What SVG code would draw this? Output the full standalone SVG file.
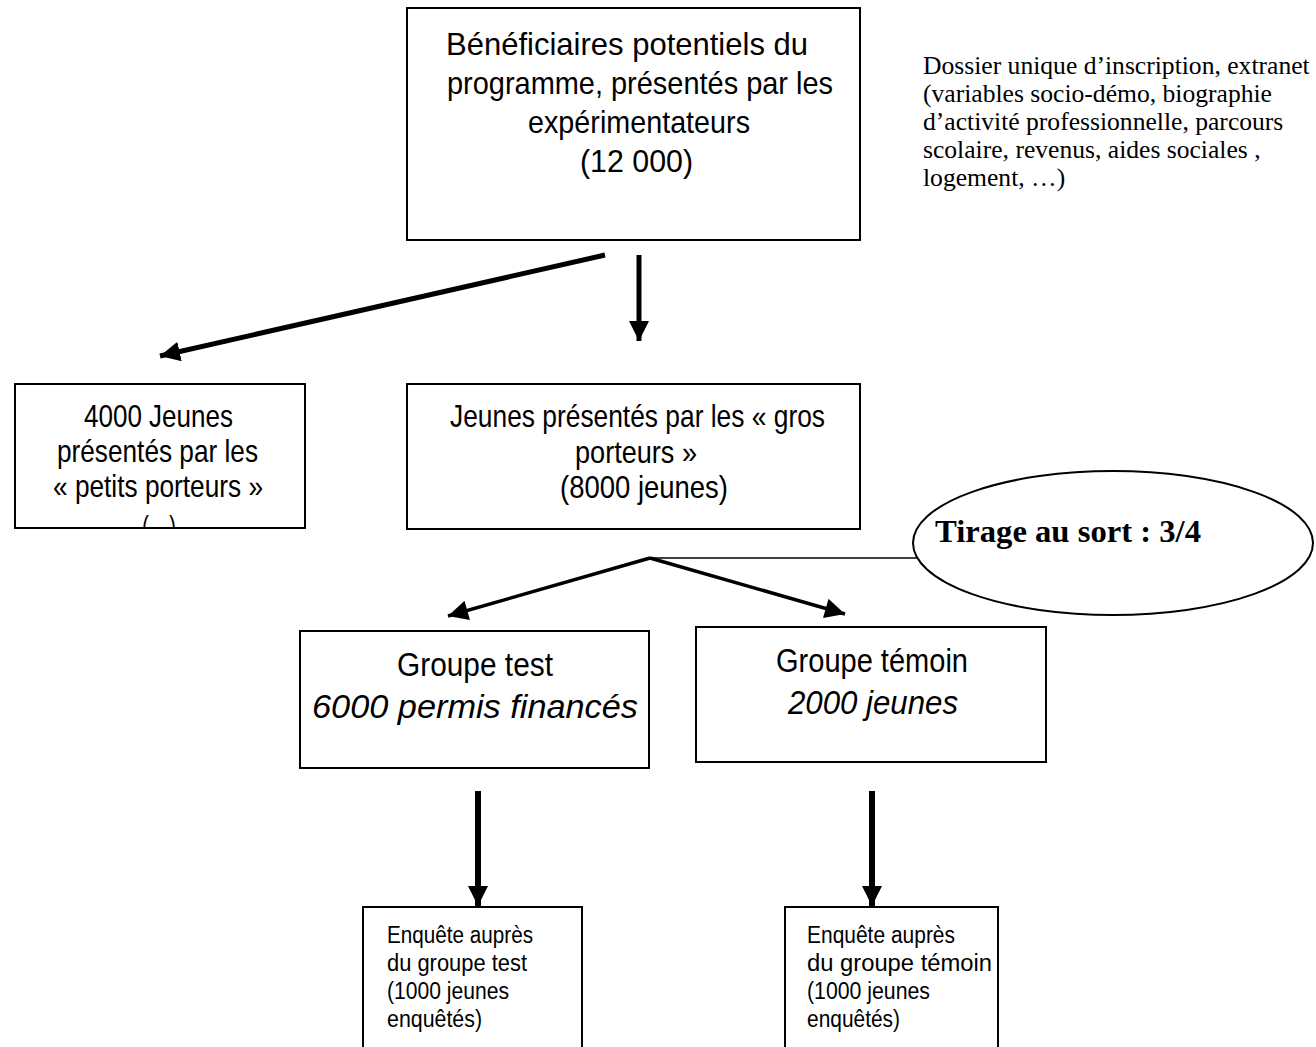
<svg xmlns="http://www.w3.org/2000/svg" width="1316" height="1047" viewBox="0 0 1316 1047">
<style>
.box{fill:#fff;stroke:#000;stroke-width:2}
.n{font-family:"Liberation Sans Narrow","Liberation Sans",Arial,sans-serif;fill:#000}
.t{font-family:"Liberation Serif","Times New Roman",serif;fill:#000}
.arr{stroke:#000;fill:none}
</style>
<defs>
<marker id="ah" markerUnits="userSpaceOnUse" viewBox="0 0 20 20" markerWidth="20" markerHeight="20" refX="20" refY="10" orient="auto">
<path d="M0,0 L20,10 L0,20 Z" fill="#000"/>
</marker>
<marker id="ahs" markerUnits="userSpaceOnUse" viewBox="0 0 20 20" markerWidth="23" markerHeight="20" refX="20" refY="10" orient="auto">
<path d="M0,0 L20,10 L0,20 Z" fill="#000"/>
</marker>
<clipPath id="clipLeft"><rect x="15" y="384" width="290" height="143"/></clipPath>
</defs>

<g id="connectors">
<line class="arr" x1="605" y1="255" x2="160" y2="356" stroke-width="5" marker-end="url(#ah)"/>
<line class="arr" x1="639" y1="255" x2="639" y2="341" stroke-width="5" marker-end="url(#ah)"/>
<line class="arr" x1="650" y1="558" x2="917" y2="558" stroke-width="1.6"/>
<line class="arr" x1="650" y1="558" x2="448" y2="616" stroke-width="3.5" marker-end="url(#ahs)"/>
<line class="arr" x1="650" y1="558" x2="845" y2="614" stroke-width="3.5" marker-end="url(#ahs)"/>
<line class="arr" x1="478" y1="791" x2="478" y2="906" stroke-width="6" marker-end="url(#ah)"/>
<line class="arr" x1="872" y1="791" x2="872" y2="906" stroke-width="6" marker-end="url(#ah)"/>
</g>

<g id="node-beneficiaires">
<rect class="box" x="407" y="8" width="453" height="232"/>
<text class="n" font-size="32" x="446" y="55" textLength="362" lengthAdjust="spacingAndGlyphs">Bénéficiaires potentiels du</text>
<text class="n" font-size="32" x="447" y="94" textLength="386" lengthAdjust="spacingAndGlyphs">programme, présentés par les</text>
<text class="n" font-size="32" x="528" y="133" textLength="222" lengthAdjust="spacingAndGlyphs">expérimentateurs</text>
<text class="n" font-size="32" x="580" y="172" textLength="113" lengthAdjust="spacingAndGlyphs">(12 000)</text>
</g>

<g id="note-dossier">
<text class="t" font-size="25.6" x="923" y="74">Dossier unique d’inscription, extranet</text>
<text class="t" font-size="25.6" x="923" y="102">(variables socio-démo, biographie</text>
<text class="t" font-size="25.6" x="923" y="130">d’activité professionnelle, parcours</text>
<text class="t" font-size="25.6" x="923" y="158">scolaire, revenus, aides sociales ,</text>
<text class="t" font-size="25.6" x="923" y="186">logement, …)</text>
</g>

<g id="node-petits">
<rect class="box" x="15" y="384" width="290" height="144"/>
<text class="n" font-size="32" x="84" y="427" textLength="149" lengthAdjust="spacingAndGlyphs">4000 Jeunes</text>
<text class="n" font-size="32" x="57" y="462" textLength="201" lengthAdjust="spacingAndGlyphs">présentés par les</text>
<text class="n" font-size="32" x="53" y="497" textLength="210" lengthAdjust="spacingAndGlyphs">« petits porteurs »</text>
<text class="n" font-size="32" x="142" y="538" textLength="34" lengthAdjust="spacingAndGlyphs" clip-path="url(#clipLeft)">(…)</text>
</g>

<g id="node-gros">
<rect class="box" x="407" y="384" width="453" height="145"/>
<text class="n" font-size="32" x="450" y="427" textLength="375" lengthAdjust="spacingAndGlyphs">Jeunes présentés par les « gros</text>
<text class="n" font-size="32" x="575" y="463" textLength="122" lengthAdjust="spacingAndGlyphs">porteurs »</text>
<text class="n" font-size="32" x="560" y="498" textLength="168" lengthAdjust="spacingAndGlyphs">(8000 jeunes)</text>
</g>

<g id="node-tirage">
<ellipse cx="1113" cy="543" rx="200" ry="72" fill="#fff" stroke="#000" stroke-width="2"/>
<text class="t" font-size="32" font-weight="bold" x="935" y="542" textLength="266" lengthAdjust="spacingAndGlyphs">Tirage au sort : 3/4</text>
</g>

<g id="node-test">
<rect class="box" x="300" y="631" width="349" height="137"/>
<text class="n" font-size="33" x="397" y="676" textLength="156" lengthAdjust="spacingAndGlyphs">Groupe test</text>
<text class="n" font-size="33" font-style="italic" x="312" y="718" textLength="326" lengthAdjust="spacingAndGlyphs">6000 permis financés</text>
</g>

<g id="node-temoin">
<rect class="box" x="696" y="627" width="350" height="135"/>
<text class="n" font-size="33" x="776" y="672" textLength="192" lengthAdjust="spacingAndGlyphs">Groupe témoin</text>
<text class="n" font-size="33" font-style="italic" x="788" y="714" textLength="170" lengthAdjust="spacingAndGlyphs">2000 jeunes</text>
</g>

<g id="node-enquete-test">
<rect class="box" x="363" y="907" width="219" height="150"/>
<text class="n" font-size="23.5" x="387" y="943" textLength="146" lengthAdjust="spacingAndGlyphs">Enquête auprès</text>
<text class="n" font-size="23.5" x="387" y="971" textLength="140" lengthAdjust="spacingAndGlyphs">du groupe test</text>
<text class="n" font-size="23.5" x="387" y="999" textLength="122" lengthAdjust="spacingAndGlyphs">(1000 jeunes</text>
<text class="n" font-size="23.5" x="387" y="1027" textLength="95" lengthAdjust="spacingAndGlyphs">enquêtés)</text>
</g>

<g id="node-enquete-temoin">
<rect class="box" x="785" y="907" width="213" height="150"/>
<text class="n" font-size="23.5" x="807" y="943" textLength="148" lengthAdjust="spacingAndGlyphs">Enquête auprès</text>
<text class="n" font-size="23.5" x="807" y="971" textLength="185" lengthAdjust="spacingAndGlyphs">du groupe témoin</text>
<text class="n" font-size="23.5" x="807" y="999" textLength="123" lengthAdjust="spacingAndGlyphs">(1000 jeunes</text>
<text class="n" font-size="23.5" x="807" y="1027" textLength="93" lengthAdjust="spacingAndGlyphs">enquêtés)</text>
</g>
</svg>
